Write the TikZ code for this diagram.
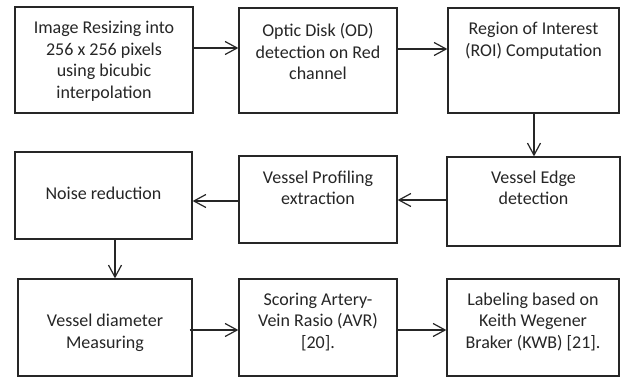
\documentclass[tikz,border=0pt]{standalone}
\usepackage{fontspec}
\setmainfont{Carlito}
\usetikzlibrary{arrows.meta}
\tikzset{
  box/.style={draw=black!85, line width=1.3pt, inner sep=0pt},
  txt/.style={inner sep=0pt, align=center, text=black!85, anchor=north,
    font=\fontsize{18}{21.5}\selectfont},
  conn/.style={draw=black!85, line width=1.2pt, -{Straight Barb[length=12pt,width=13pt,line width=1.2pt]}}
}
\newcommand{\mkbox}[5]{% name, x1, y1, x2, y2
  \node[box, minimum width={#4-#2}, minimum height={#5-#3}] (#1) at ({(#2+#4)/2},{(#3+#5)/2}) {};}
\begin{document}
\begin{tikzpicture}[x=1pt,y=-1pt]
\useasboundingbox[fill=white] (0,0) rectangle (622,378);
\mkbox{b1}{15}{7}{193}{113}
\mkbox{b2}{239}{8}{397}{113}
\mkbox{b3}{448}{8}{619}{113}
\mkbox{b4}{15}{152}{192}{239}
\mkbox{b5}{239}{156}{397}{243}
\mkbox{b6}{447}{157}{620}{246}
\mkbox{b7}{18}{279}{192}{376}
\mkbox{b8}{239}{279}{397}{376}
\mkbox{b9}{447}{279}{619}{376}

\node[txt] (t1) at (104,{33.3-15.05}) {\strut Image Resizing into\\256 x 256 pixels\\using bicubic\\interpolation};
\node[txt] (t2) at (318,{36.5-15.05}) {\strut Optic Disk (OD)\\detection on Red\\channel};
\node[txt] (t3) at (533.5,{34.3-15.05}) {\strut Region of Interest\\(ROI) Computation};
\node[txt] (t4) at (103.5,{199-15.05}) {\strut Noise reduction};
\node[txt] (t5) at (318,{183-15.05}) {\strut Vessel Profiling\\extraction};
\node[txt] (t6) at (533.5,{183-15.05}) {\strut Vessel Edge\\detection};
\node[txt] (t7) at (105,{326.7-15.05}) {\strut Vessel diameter\\Measuring};
\node[txt] (t8) at (318,{305-15.05}) {\strut Scoring Artery-\\Vein Rasio (AVR)\\{[20].}};
\node[txt] (t9) at (533,{305-15.05}) {\strut Labeling based on\\Keith Wegener\\Braker (KWB) [21].};

\path[conn] (b1.east |- 0,48) -- (b2.west |- 0,48);
\path[conn] (b2.east |- 0,49) -- (b3.west |- 0,49);
\path[conn] (b3.south -| 534,0) -- (b6.north -| 534,0);
\path[conn] (b6.west |- 0,200) -- (b5.east |- 0,200);
\path[conn] (b5.west |- 0,201) -- (b4.east |- 0,201);
\path[conn] (b4.south -| 115,0) -- (b7.north -| 115,0);
\path[conn] ([xshift=-3pt]b7.east |- 0,330) -- (b8.west |- 0,330);
\path[conn] (b8.east |- 0,330) -- (b9.west |- 0,330);
\end{tikzpicture}
\end{document}
